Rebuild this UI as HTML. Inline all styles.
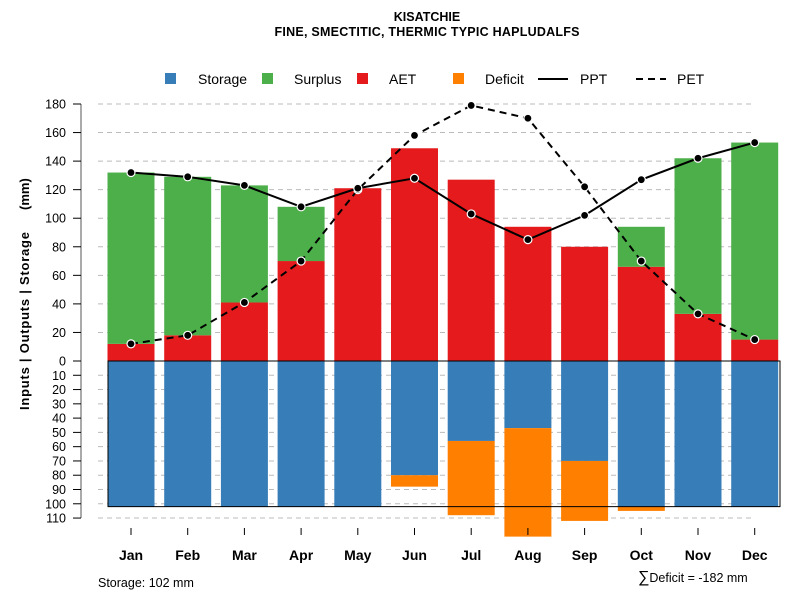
<!DOCTYPE html>
<html><head><meta charset="utf-8"><style>
body{margin:0;background:#fff}
svg{display:block;font-family:"Liberation Sans",sans-serif}
</style></head><body>
<svg id="c" width="800" height="600" xmlns="http://www.w3.org/2000/svg">
<text x="427" y="21" text-anchor="middle" font-size="12.5" font-weight="bold">KISATCHIE</text>
<text x="427" y="36" text-anchor="middle" font-size="12.5" font-weight="bold" textLength="305">FINE, SMECTITIC, THERMIC TYPIC HAPLUDALFS</text>
<g id="grid"></g>
<g id="bars"></g>
<g id="lines"></g>
<g id="axes"></g>
<g font-size="13" font-weight="bold">
<text x="29" y="410" transform="rotate(-90 29 410)" textLength="178">Inputs | Outputs | Storage</text>
<text x="29" y="210" transform="rotate(-90 29 210)">(mm)</text>
</g>
<g font-size="14">
<rect x="165" y="73" width="11" height="11" fill="#377eb8"/>
<text x="198" y="84">Storage</text>
<rect x="262" y="73" width="11" height="11" fill="#4daf4a"/>
<text x="294" y="84">Surplus</text>
<rect x="357" y="73" width="11" height="11" fill="#e41a1c"/>
<text x="389" y="84">AET</text>
<rect x="453" y="73" width="11" height="11" fill="#ff7f00"/>
<text x="485" y="84">Deficit</text>
<line x1="538" y1="79" x2="568" y2="79" stroke="#000" stroke-width="2"/>
<text x="580" y="84">PPT</text>
<line x1="636" y1="79" x2="666" y2="79" stroke="#000" stroke-width="2" stroke-dasharray="7,5"/>
<text x="677" y="84">PET</text>
</g>
<text x="98" y="587" font-size="12.5">Storage: 102 mm</text>
<text x="638" y="582" font-size="12.5"><tspan font-size="16">∑</tspan>Deficit = -182 mm</text>
</svg>
<script>
const months=["Jan","Feb","Mar","Apr","May","Jun","Jul","Aug","Sep","Oct","Nov","Dec"];
const ppt=[132,129,123,108,121,128,103,85,102,127,142,153];
const pet=[12,18,41,70,120,158,179,170,122,70,33,15];
const aet=[12,18,41,70,121,149,127,94,80,66,33,15];
const surplus=[120,111,82,38,0,0,0,0,0,28,109,138];
const storage=[102,102,102,102,102,80,56,47,70,102,102,102];
const deficit=[0,0,0,0,0,8,52,76,42,3,0,0];
const posTicks=[0,20,40,60,80,100,120,140,160,180];
const negTicks=[10,20,30,40,50,60,70,80,90,100,110];
const capacity=102;
const NS="http://www.w3.org/2000/svg";
const Y0=361,K=257/180;
const y=v=>Y0-v*K;
const x=i=>131+i*56.7;
const BW=47;
function mk(t,a,p){const e=document.createElementNS(NS,t);for(const k in a)e.setAttribute(k,a[k]);p.appendChild(e);return e;}
const G=document.getElementById('grid'),B=document.getElementById('bars'),L=document.getElementById('lines'),A=document.getElementById('axes');
const gl=posTicks.filter(t=>t>0).concat(negTicks.map(t=>-t));
gl.forEach(t=>{const e=mk('line',{x1:98,x2:755,y1:y(t),y2:y(t),stroke:'#bbb','stroke-dasharray':'5,4'},G);

});
months.forEach((m,i)=>{
 const l=x(i)-BW/2;
 const r1=mk('rect',{x:l,y:y(aet[i]),width:BW,height:aet[i]*K,fill:'#e41a1c'},B);
 
 
 const r2=mk('rect',{x:l,y:y(aet[i]+surplus[i]),width:BW,height:surplus[i]*K,fill:'#4daf4a'},B);
 
 
 const r3=mk('rect',{x:l,y:Y0,width:BW,height:storage[i]*K,fill:'#377eb8'},B);
 
 
 const r4=mk('rect',{x:l,y:y(-storage[i]),width:BW,height:deficit[i]*K,fill:'#ff7f00'},B);
 
 
 const tk=mk('line',{x1:x(i),x2:x(i),y1:528,y2:535,stroke:'#000'},A);
 
 
 const tx=mk('text',{x:x(i),y:560,'text-anchor':'middle','font-size':14,'font-weight':'bold'},A);tx.textContent=m;
 
 
});
const box=mk('rect',{x:108,y:Y0,width:672,height:capacity*K,fill:'none',stroke:'#000','stroke-width':1},B);


function series(d,dash,name){
 const p=mk('polyline',{points:d.map((v,i)=>x(i)+','+y(v)).join(' '),fill:'none',stroke:'#000','stroke-width':2,'stroke-dasharray':dash},L);
 
 
 d.forEach((v,i)=>{const c=mk('circle',{cx:x(i),cy:y(v),r:4,fill:'#000',stroke:'#fff','stroke-width':1.2},L);
 
 });
}
series(pet,'7,5','pet');
series(ppt,'none','ppt');
const ax=mk('line',{x1:81,x2:81,y1:y(180),y2:y(-110),stroke:'#555'},A);


posTicks.concat(negTicks.map(t=>-t)).forEach(t=>{
 const tl=mk('line',{x1:73,x2:81,y1:y(t),y2:y(t),stroke:'#000'},A);
 
 
 const tt=mk('text',{x:66,y:y(t)+4.5,'text-anchor':'end','font-size':12.5},A);tt.textContent=Math.abs(t);
 
 
});
</script>
</body></html>
